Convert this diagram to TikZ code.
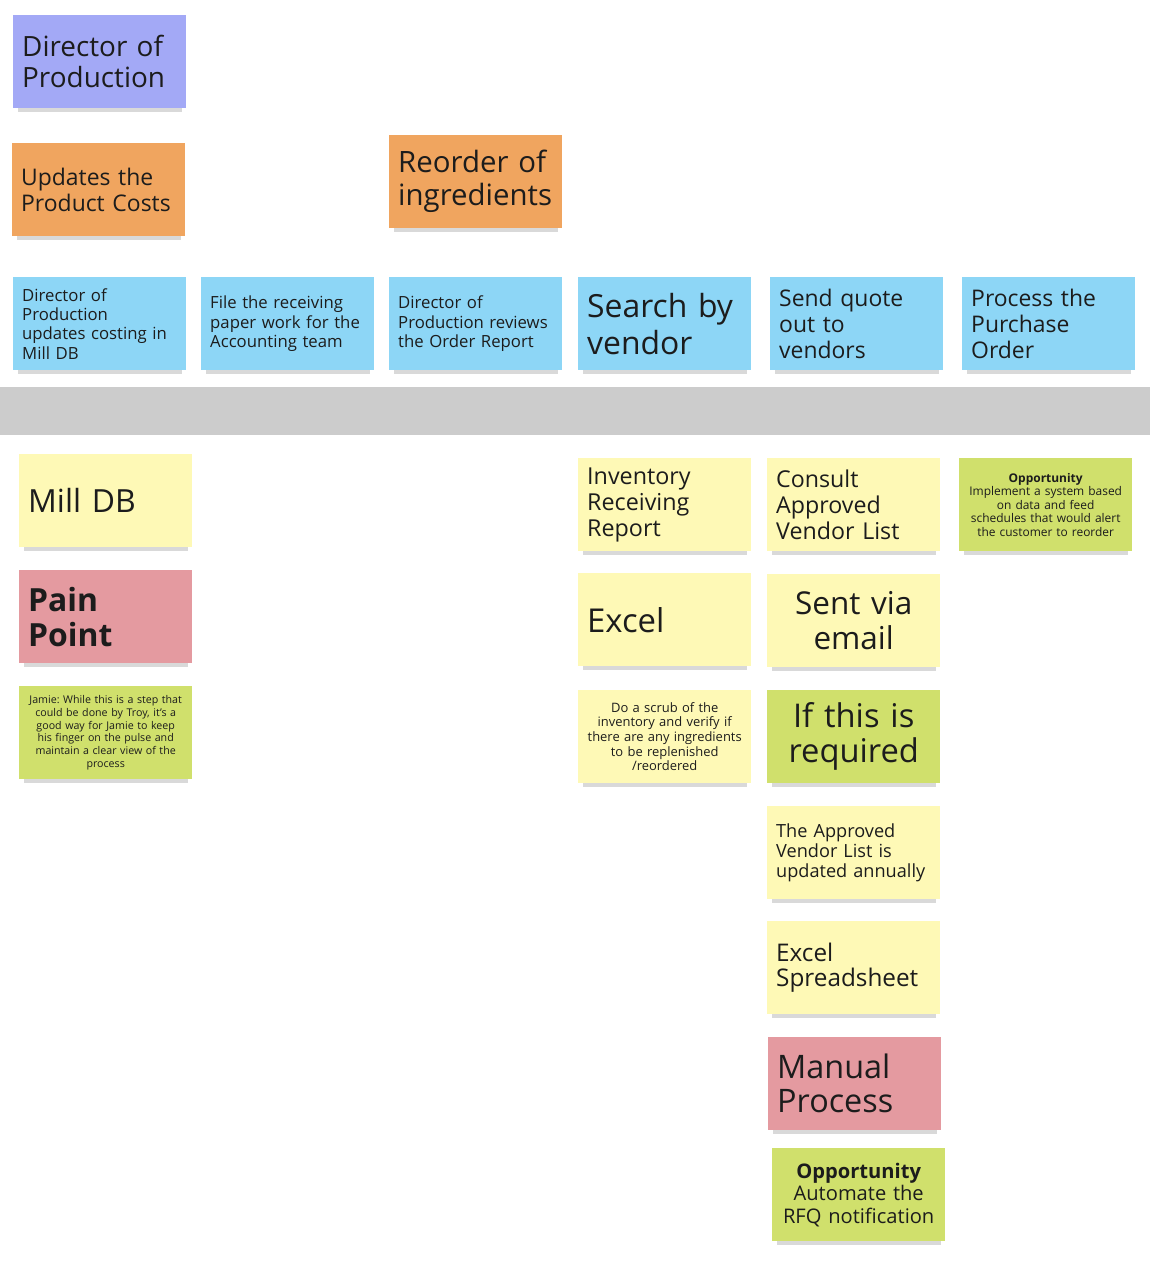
\documentclass[tikz,border=0pt]{standalone}
\usepackage{fontspec}
\setmainfont{Open Sans}
\frenchspacing
\usetikzlibrary{shadows}

\definecolor{ink}{HTML}{1C1C1C}
\definecolor{violet note}{HTML}{A3A9F6}
\definecolor{orange note}{HTML}{F0A55F}
\definecolor{blue note}{HTML}{8DD6F6}
\definecolor{yellow note}{HTML}{FEF9B6}
\definecolor{pink note}{HTML}{E49AA0}
\definecolor{green note}{HTML}{D0E06C}
\definecolor{band grey}{HTML}{CCCCCC}

\tikzset{
    sticky/.style={
        rectangle, anchor=north west, text=ink,
        inner xsep=9bp, inner ysep=0pt, text width=155bp,
        minimum height=93bp, align=left,
        drop shadow={shadow xshift=0bp, shadow yshift=-6bp,
            shadow scale=0.95, opacity=0.3}},
    violet/.style={sticky, fill=violet note},
    orange/.style={sticky, fill=orange note},
    blue/.style={sticky, fill=blue note},
    yellow/.style={sticky, fill=yellow note},
    pink/.style={sticky, fill=pink note},
    green/.style={sticky, fill=green note},
    tiny print/.style={inner xsep=3bp, text width=167bp, align=center},
    centred/.style={align=center}
}

\newcommand{\fsz}[2]{\fontsize{#1}{#2}\selectfont}

\begin{document}
\begin{tikzpicture}[x=1bp, y=-1bp]

\useasboundingbox (0,0) rectangle (1150,1264);

% Actor and events

\node [violet, font=\fsz{28}{31}] (director) at (13,15)
    {Director of\\Production};

\node [orange, font=\fsz{23}{25.5}] (costs) at (12,143)
    {Updates the\\Product Costs};
\node [orange, font=\fsz{29.5}{33}] (reorder) at (389,135)
    {Reorder of\\ingredients};

% Steps

\node [blue, font=\fsz{16.8}{19.4}] (costing) at (13,277)
    {Director of\\Production\\updates costing in\\Mill DB};
\node [blue, font=\fsz{16.8}{19.5}] (filing) at (201,277)
    {File the receiving\\paper work for the\\Accounting team};
\node [blue, font=\fsz{16.8}{19.5}] (review) at (389,277)
    {Director of\\Production reviews\\the Order Report};
\node [blue, font=\fsz{32}{37}] (search) at (578,277)
    {Search by\\vendor};
\node [blue, font=\fsz{23}{26}] (quote) at (770,277)
    {Send quote\\out to\\vendors};
\node [blue, font=\fsz{23}{26}] (purchase) at (962,277)
    {Process the\\Purchase\\Order};

\fill [band grey] (0,387) rectangle (1150,435);

% Details under the band

\node [yellow, font=\fsz{32}{35}] (milldb) at (19,454) {Mill DB};
\node [pink, font=\fsz{32}{35}\bfseries] (pain) at (19,570)
    {Pain\\Point};
\node [green, tiny print, font=\fsz{10.7}{12.8}] (jamie) at (19,686)
    {Jamie: While this is a step that\\could be done by Troy, it's a\\good way for Jamie to keep\\his finger on the pulse and\\maintain a clear view of the\\process};

\node [yellow, font=\fsz{23.4}{26}] (receiving) at (578,458)
    {Inventory\\Receiving\\Report};
\node [yellow, font=\fsz{33}{35}] (excel) at (578,573) {Excel};
\node [yellow, tiny print, font=\fsz{13}{14.75}] (scrub) at (578,690)
    {Do a scrub of the\\inventory and verify if\\there are any ingredients\\to be replenished\\/reordered};

\node [yellow, font=\fsz{23.3}{26}] (consult) at (767,458)
    {Consult\\Approved\\Vendor List};
\node [yellow, centred, font=\fsz{31.6}{35}] (email) at (767,574)
    {Sent via\\email};
\node [green, centred, font=\fsz{32.8}{35}] (required) at (767,690)
    {If this is\\required};
\node [yellow, font=\fsz{18.2}{20}] (annual) at (767,806)
    {The Approved\\Vendor List is\\updated annually};
\node [yellow, font=\fsz{24.4}{26}] (sheet) at (767,921)
    {Excel\\Spreadsheet};
\node [pink, font=\fsz{32.5}{34}] (manual) at (768,1037)
    {Manual\\Process};
\node [green, centred, font=\fsz{20.2}{22.5}] (automate) at (772,1148)
    {\textbf{Opportunity}\\Automate the\\RFQ notification};

\node [green, tiny print, font=\fsz{12}{13.5}] (alert) at (959,458)
    {\textbf{Opportunity}\\Implement a system based\\on data and feed\\schedules that would alert\\the customer to reorder};

\end{tikzpicture}
\end{document}
